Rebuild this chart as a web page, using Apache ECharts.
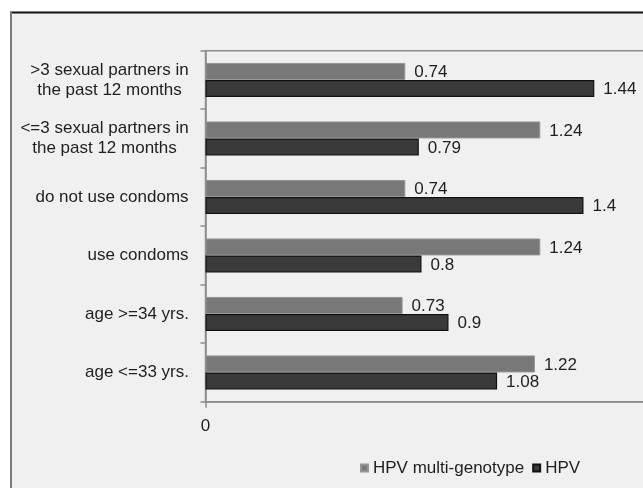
<!DOCTYPE html>
<html>
<head>
<meta charset="utf-8">
<script src="https://cdn.jsdelivr.net/npm/echarts@6/dist/echarts.min.js"></script>
<style>
html,body{margin:0;padding:0;background:#ffffff;}
#chart{width:643px;height:488px;}
</style>
</head>
<body>
<div id="chart"></div>
<script>
// ---- data ----
var categories = [
  ">3 sexual partners in\nthe past 12 months",
  "<=3 sexual partners in\nthe past 12 months",
  "do not use condoms",
  "use condoms",
  "age >=34 yrs.",
  "age <=33 yrs."
];
var seriesNames = ["HPV multi-genotype", "HPV"];
var multiGenotype = [0.74, 1.24, 0.74, 1.24, 0.73, 1.22];
var hpv = [1.44, 0.79, 1.4, 0.8, 0.9, 1.08];
var xTicks = [0, 2];

// ---- styles ----
var FONT = '"Liberation Sans", Arial, sans-serif';
var FS = 17;
var ctx = document.createElement('canvas').getContext('2d');
ctx.font = FS + 'px ' + FONT;
var rich = {};
categories.forEach(function (c, i) {
  var w = 0;
  c.split('\n').forEach(function (l) { w = Math.max(w, ctx.measureText(l).width); });
  rich['r' + i] = { width: Math.ceil(w) + 1, align: 'center', fontSize: FS, fontFamily: FONT, color: '#1e1e1e', lineHeight: 20 };
});

var chart = echarts.init(document.getElementById('chart'), null, { renderer: 'canvas' });
var option = {
  backgroundColor: '#ffffff',
  animation: false,
  graphic: [
    { type: 'rect', z: -100, silent: true, shape: { x: 10, y: 12, width: 700, height: 600 }, style: { fill: '#f0f0f0' } },
    { type: 'line', z: 100, silent: true, shape: { x1: 10, y1: 12.5, x2: 643, y2: 12.5 }, style: { stroke: '#111', lineWidth: 2 } },
    { type: 'line', z: 100, silent: true, shape: { x1: 11, y1: 12, x2: 11, y2: 488 }, style: { stroke: '#7a7a7a', lineWidth: 2 } }
  ],
  grid: {
    left: 205.5, top: 50.7, right: 643 - 745.5, bottom: 86.3,
    outerBoundsMode: 'none', containLabel: false,
    show: true, borderColor: '#8c8c8c', borderWidth: 1.5, backgroundColor: 'transparent'
  },
  legend: {
    data: seriesNames,
    left: 355, top: 453,
    icon: 'rect', itemWidth: 7, itemHeight: 7, itemGap: 8,
    textStyle: { fontSize: FS, fontFamily: FONT, color: '#1e1e1e', lineHeight: 20 }
  },
  xAxis: {
    type: 'value', min: xTicks[0], max: xTicks[xTicks.length - 1], interval: xTicks[1] - xTicks[0],
    axisLine: { show: true, lineStyle: { color: '#8c8c8c', width: 1.5 } },
    axisTick: { show: true, length: 6, lineStyle: { color: '#8c8c8c', width: 1.5 } },
    splitLine: { show: false },
    axisLabel: { fontSize: FS, fontFamily: FONT, color: '#1e1e1e', margin: 16 }
  },
  yAxis: {
    type: 'category', data: categories, inverse: true,
    axisLine: { show: true, lineStyle: { color: '#8c8c8c', width: 1.5 } },
    axisTick: { show: true, length: 5, lineStyle: { color: '#8c8c8c', width: 1.5 } },
    axisLabel: {
      margin: 16, fontSize: FS, fontFamily: FONT, color: '#1e1e1e', lineHeight: 20,
      formatter: function (v, i) {
        return v.split('\n').map(function (l) { return '{r' + i + '|' + l + '}'; }).join('\n');
      },
      rich: rich
    }
  },
  series: [
    {
      name: seriesNames[0], type: 'bar', data: multiGenotype, barWidth: 17, barGap: '0%',
      itemStyle: { color: '#787878', borderColor: '#959595', borderWidth: 1 },
      label: { show: true, position: 'right', distance: 9, offset: [0, 1], fontSize: FS, fontFamily: FONT, color: '#1e1e1e' }
    },
    {
      name: seriesNames[1], type: 'bar', data: hpv, barWidth: 17, barGap: '0%',
      itemStyle: { color: '#3a3a3a', borderColor: '#111111', borderWidth: 1.2 },
      label: { show: true, position: 'right', distance: 9, offset: [0, 1], fontSize: FS, fontFamily: FONT, color: '#1e1e1e' }
    }
  ]
};
chart.setOption(option);
</script>
</body>
</html>
